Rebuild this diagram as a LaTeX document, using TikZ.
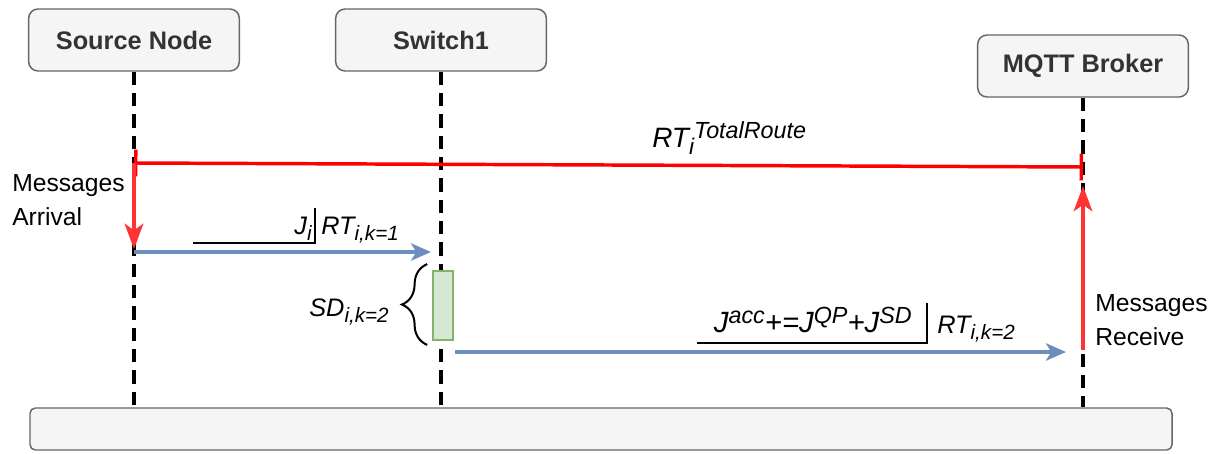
\documentclass[tikz,border=0pt]{standalone}
\usepackage{fontspec}
\setmainfont{Liberation Sans}
\usetikzlibrary{arrows.meta,calc,decorations.pathreplacing}

\definecolor{boxfill}{HTML}{F5F5F5}
\definecolor{boxline}{HTML}{666666}
\definecolor{boxtext}{HTML}{333333}
\definecolor{sdfill}{HTML}{D5E8D4}
\definecolor{sdline}{HTML}{82B366}
\definecolor{msgblue}{HTML}{6C8EBF}
\definecolor{routered}{HTML}{FF0000}
\definecolor{arrred}{HTML}{FF3333}

\newcommand{\fs}[1]{\fontsize{#1}{#1}\selectfont}
\newcommand{\lowtxt}[2]{\raisebox{-0.25em}{\fs{#1}#2}}
\newcommand{\hightxt}[2]{\raisebox{0.3em}{\fs{#1}#2}}

\tikzset{
  actor/.style={draw=boxline, fill=boxfill, rounded corners=7pt, line width=1.1pt,
    minimum width=158pt, minimum height=46.5pt, font=\fs{19}\bfseries, text=boxtext},
  lifeline/.style={line width=2.6pt, dash pattern=on 10pt off 6pt},
  msgline/.style={msgblue, line width=2.6pt, -{Stealth[length=15pt,width=13pt,inset=4pt]}},
  redarrow/.style={arrred, line width=2.6pt, -{Stealth[length=19pt,width=14pt,inset=5pt]}},
  mathtxt/.style={inner sep=0pt, font=\fs{19}\itshape},
  notetxt/.style={inner sep=0pt, align=left, font=\fontsize{18.5}{25}\selectfont},
  underbar/.style={line width=1.1pt}
}

\begin{document}
\begin{tikzpicture}[x=0.75pt,y=-0.75pt]
\useasboundingbox (0,0) rectangle (1212,453);

% ----------------------------------------------------------
% Participants
% ----------------------------------------------------------
\node[actor] (src) at (134,40) {Source Node};
\node[actor] (sw) at (441,40) {Switch1};
\node[actor] (mqtt) at (1083,66) {MQTT Broker};
\node[actor, minimum width=856.5pt, minimum height=31.5pt, rounded corners=4pt] (bar) at (601,429) {};

% ----------------------------------------------------------
% Lifelines
% ----------------------------------------------------------
\foreach \n in {src,sw,mqtt} {
    \draw[lifeline] (\n.south) -- (\n.south |- bar.north);
}

% ----------------------------------------------------------
% Total route time
% ----------------------------------------------------------
\coordinate (rs) at (134,163);
\coordinate (re) at (1083,167);
\draw[routered, line width=2.6pt, {Bar[width=20pt]}-{Bar[width=20pt]}] (rs) -- (re);
\node[mathtxt, font=\fs{21}\itshape, anchor=base west] (rtot) at (652,147)
    {RT\lowtxt{17}{i}\hightxt{17.5}{TotalRoute}};

% ----------------------------------------------------------
% Arrival / receive
% ----------------------------------------------------------
\coordinate (arrv) at (134,249);
\draw[redarrow] (rs) -- (arrv);
\node[notetxt, anchor=base west] (arrtxt) at (12,225) {Messages\\Arrival};

\coordinate (recv) at (1083,350);
\draw[redarrow] (recv) -- (1083,186);
\node[notetxt, anchor=base west] (rcvtxt) at (1095,345) {Messages\\Receive};

% ----------------------------------------------------------
% Hop 1: source -> switch
% ----------------------------------------------------------
\coordinate (h1s) at (134,252);
\coordinate (h1e) at (431,252);
\draw[msgline] (h1s) -- (h1e);
\node[mathtxt, anchor=base east] (ji) at (312,234) {J\lowtxt{15.5}{i}};
\coordinate (jiL) at (193,243);
\coordinate (jiT) at (315,208);
\draw[underbar] (jiL) -| (jiT);
\node[mathtxt, anchor=base west] (rt1) at (321,234) {RT\lowtxt{15.5}{i,k=1}};

% ----------------------------------------------------------
% Switch delay
% ----------------------------------------------------------
\node[draw=sdline, fill=sdfill, line width=1.1pt, minimum width=15pt, minimum height=52pt,
    inner sep=0pt] (sd) at (443,305.5) {};
\draw[line width=1.5pt, decorate, decoration={brace, amplitude=19pt}]
    ($(sd.south west)+(-5,4)$) -- ($(sd.north west)+(-5,-6)$);
\node[mathtxt, anchor=base east] (sdtxt) at (389,316) {SD\lowtxt{15.5}{i,k=2}};

% ----------------------------------------------------------
% Hop 2: switch -> broker
% ----------------------------------------------------------
\coordinate (h2s) at (455,352);
\coordinate (h2e) at (1066,352);
\draw[msgline] (h2s) -- (h2e);
\node[mathtxt, font=\fs{22}\itshape, anchor=base east] (jacc) at (912,332)
    {J\hightxt{17.5}{acc}+=J\hightxt{17.5}{QP}+J\hightxt{17.5}{SD}};
\coordinate (jaccL) at (697,343);
\coordinate (jaccT) at (927,303);
\draw[underbar] (jaccL) -| (jaccT);
\node[mathtxt, anchor=base west] (rt2) at (937,333) {RT\lowtxt{15.5}{i,k=2}};

\end{tikzpicture}
\end{document}
